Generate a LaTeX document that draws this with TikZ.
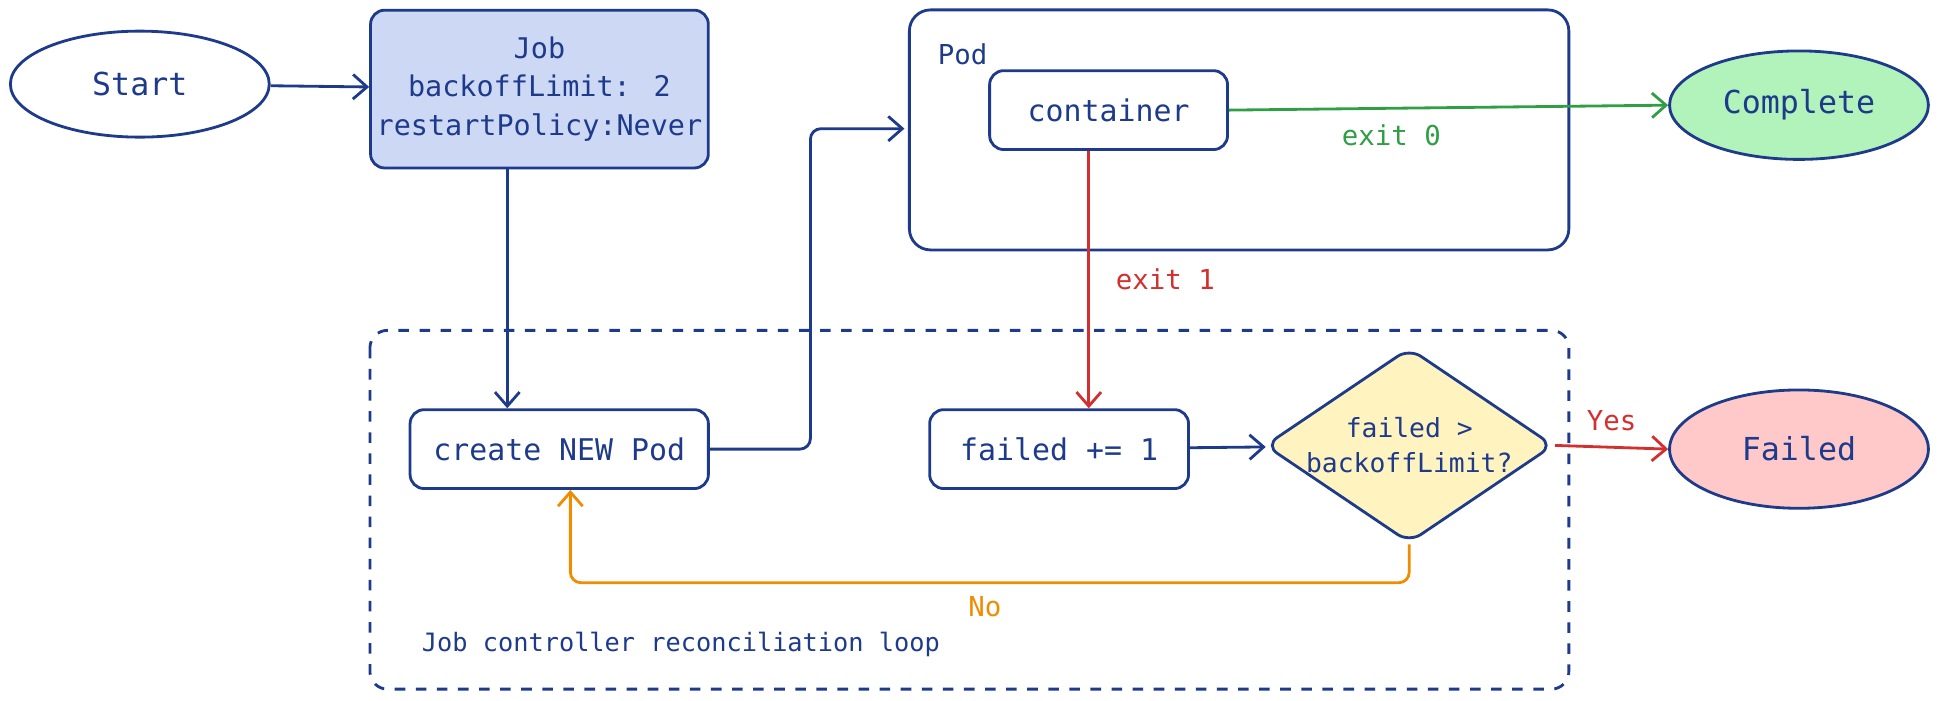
\documentclass[tikz,border=0pt]{standalone}
\usepackage{fontspec}
\setmainfont{DejaVu Sans Mono}
\usetikzlibrary{shapes.geometric,arrows.meta}
\definecolor{ink}{HTML}{1E3A8A}
\definecolor{jobfill}{HTML}{CDD8F5}
\definecolor{okfill}{HTML}{B2F2BB}
\definecolor{badfill}{HTML}{FFC9C9}
\definecolor{askfill}{HTML}{FFF3BF}
\definecolor{okline}{HTML}{2F9E44}
\definecolor{badline}{HTML}{D32F2F}
\definecolor{noline}{HTML}{F08C00}
\newcommand\pxl{0.3508pt}
\tikzset{
  box/.style={draw=ink,thick,rounded corners=4pt,text=ink,font=\fontsize{8.5}{10}\selectfont,align=center,inner sep=0pt},
  oval/.style={draw=ink,thick,ellipse,text=ink,inner sep=0pt,font=\fontsize{9}{11}\selectfont},
  flow/.style={thick,-{Straight Barb[length=4pt,width=7pt]},rounded corners=3pt},
  tag/.style={font=\fontsize{7.8}{10}\selectfont}
}
\begin{document}
\begin{tikzpicture}[x=0.01237cm,y=-0.01237cm]
\useasboundingbox (0,0) rectangle (1568,566);
% outer frames
\draw[ink,thick,dashed,rounded corners=5pt] (299,267) rectangle (1268,557);
\draw[ink,thick,rounded corners=6pt] (735,8) rectangle (1268,202);
\node[tag,text=ink] (podlbl) at (778,44) {Pod};
\node[tag,text=ink,anchor=west,font=\fontsize{7.2}{9}\selectfont] (looplbl) at (331,521) {Job controller reconciliation loop};
% nodes
\node[oval,minimum width={210*\pxl},minimum height={86*\pxl}] (start) at (113,68) {Start};
\node[box,fill=jobfill,minimum width={274*\pxl},minimum height={128*\pxl},font=\fontsize{8.1}{11}\selectfont] (job) at (436,72)
  {Job\\backoffLimit: 2\\restartPolicy:Never};
\node[box,minimum width={193*\pxl},minimum height={64*\pxl}] (ctr) at (896,89) {container};
\node[oval,fill=okfill,minimum width={210*\pxl},minimum height={88*\pxl}] (done) at (1454,85) {Complete};
\node[box,minimum width={242*\pxl},minimum height={64*\pxl}] (newpod) at (452,363) {create NEW Pod};
\node[box,minimum width={210*\pxl},minimum height={64*\pxl}] (inc) at (856,363) {failed += 1};
\node[draw=ink,thick,diamond,fill=askfill,text=ink,rounded corners=4pt,aspect=1.48,inner sep=0pt,
  minimum width={216*\pxl},minimum height={146*\pxl},align=center,font=\fontsize{7.5}{10}\selectfont] (ask) at (1139,360)
  {failed >\\backoffLimit?};
\node[oval,fill=badfill,minimum width={210*\pxl},minimum height={96*\pxl}] (fail) at (1454,363) {Failed};
% connectors
\coordinate (podin) at (731,104);
\draw[flow,ink] (start) -- (job);
\draw[flow,ink] (job.south -| 410,0) -- (newpod.north -| 410,0);
\draw[flow,ink] (newpod.east) -- (655,363) -- (655,104) -- (podin);
\draw[flow,okline] (ctr.east) -- (done.west) node[tag,pos=0.37,below=1pt] {exit 0};
\draw[flow,badline] (ctr.south -| 880,0) -- (inc.north -| 880,0) node[tag,pos=0.5,right=4pt] {exit 1};
\draw[flow,ink] (inc) -- (ask);
\draw[flow,badline] (ask.east) -- (fail.west) node[tag,midway,above=1pt] {Yes};
\draw[flow,noline] (ask.south) -- (1139,471) -- (461,471) -- (newpod.south -| 461,0);
\node[tag,text=noline] (nolbl) at (796,490) {No};
\end{tikzpicture}
\end{document}
